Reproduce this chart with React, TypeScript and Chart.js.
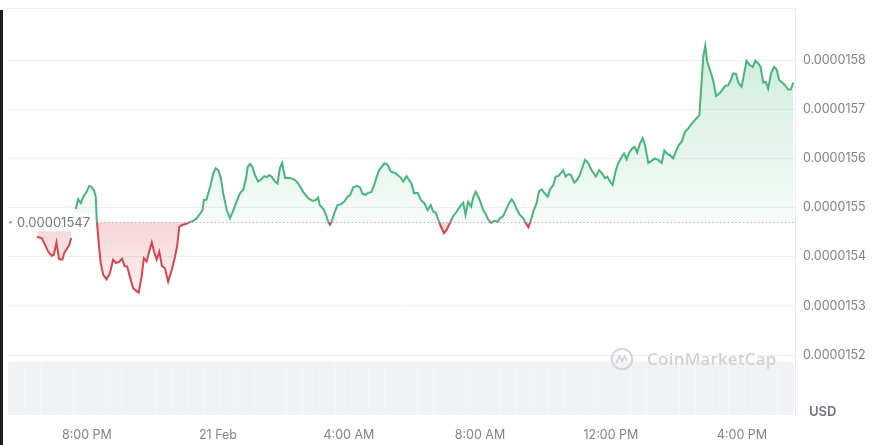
import React, { useEffect, useRef } from "react";
import { Chart, registerables } from "chart.js";

Chart.register(...registerables);

// hours since 20 Feb 00:00
const TIMES: number[] = [
  18.48, 18.62, 18.72, 18.82, 18.92, 18.99, 19.07, 19.15, 19.25, 19.31, 19.38, 19.46, 19.52,
  19.59,
  19.66, 19.73, 19.81, 19.89, 19.99, 20.07, 20.14, 20.22, 20.27, 20.30, 20.37, 20.42, 20.50,
  20.60, 20.70, 20.80, 20.89, 20.99, 21.07, 21.15, 21.23, 21.31, 21.41, 21.50, 21.58, 21.67,
  21.74, 21.82, 21.90, 21.98, 22.05, 22.13, 22.21, 22.29, 22.38, 22.48, 22.59, 22.69, 22.76,
  22.82, 22.92, 23.04, 23.15, 23.25, 23.35, 23.45, 23.53, 23.57, 23.65, 23.76, 23.86, 23.93,
  24.01, 24.09, 24.16, 24.27, 24.37, 24.47, 24.57, 24.67, 24.77, 24.85, 24.91, 24.98, 25.05,
  25.13, 25.23, 25.33, 25.41, 25.49, 25.56, 25.64, 25.74, 25.82, 25.89, 25.96, 26.05, 26.20,
  26.30, 26.40, 26.50, 26.60, 26.76, 26.88, 26.98, 27.06, 27.11, 27.22, 27.30, 27.37, 27.42,
  27.47, 27.55, 27.65, 27.76, 27.86, 27.96, 28.04, 28.13, 28.24, 28.34, 28.41, 28.51, 28.59,
  28.69, 28.77, 28.85, 28.92, 29.00, 29.08, 29.18, 29.28, 29.40, 29.49, 29.59, 29.66, 29.76,
  29.83, 29.91, 29.99, 30.10, 30.20, 30.30, 30.40, 30.50, 30.57, 30.65, 30.73, 30.81, 30.90,
  30.98, 31.08, 31.18, 31.29, 31.39, 31.49, 31.56, 31.64, 31.73, 31.80, 31.87, 31.95, 32.03,
  32.10, 32.17, 32.25, 32.34, 32.44, 32.54, 32.61, 32.71, 32.82, 32.89, 32.97, 33.05, 33.12,
  33.22, 33.32, 33.40, 33.48, 33.55, 33.63, 33.73, 33.80, 33.88, 33.98, 34.07, 34.14, 34.24,
  34.31, 34.39, 34.47, 34.54, 34.62, 34.70, 34.78, 34.88, 34.95, 35.05, 35.12, 35.21, 35.31,
  35.41, 35.54, 35.64, 35.72, 35.82, 35.89, 35.97, 36.05, 36.15, 36.22, 36.33, 36.40, 36.48,
  36.56, 36.66, 36.73, 36.80, 36.89, 36.97, 37.04, 37.14, 37.24, 37.34, 37.44, 37.55, 37.63,
  37.72, 37.80, 37.90, 37.98, 38.07, 38.16, 38.26, 38.36, 38.46, 38.56, 38.70, 38.77, 38.82,
  38.88, 38.94, 39.02, 39.12, 39.21, 39.31, 39.41, 39.48, 39.58, 39.66, 39.73, 39.82, 39.89,
  39.99, 40.06, 40.14, 40.24, 40.33, 40.41, 40.50, 40.57, 40.65, 40.73, 40.80, 40.89, 40.98,
  41.06, 41.14, 41.24, 41.34, 41.41, 41.49, 41.57,
];

// USD prices (null = missing sample)
const PRICES: (number | null)[] = [
  154.40e-7, 154.38e-7, 154.24e-7, 154.10e-7, 154.02e-7, 154.04e-7, 154.29e-7, 153.95e-7, 153.94e-7, 154.08e-7, 154.15e-7, 154.24e-7, 154.38e-7,
  null,
  154.97e-7, 155.17e-7, 155.09e-7, 155.22e-7, 155.32e-7, 155.44e-7, 155.42e-7, 155.34e-7, 155.22e-7, 154.75e-7, 154.21e-7, 153.87e-7, 153.63e-7,
  153.54e-7, 153.66e-7, 153.94e-7, 153.87e-7, 153.90e-7, 153.96e-7, 153.81e-7, 153.80e-7, 153.60e-7, 153.36e-7, 153.31e-7, 153.27e-7, 153.60e-7,
  153.97e-7, 153.90e-7, 154.10e-7, 154.29e-7, 154.10e-7, 153.94e-7, 154.10e-7, 153.81e-7, 153.77e-7, 153.49e-7, 153.73e-7, 154.00e-7, 154.24e-7,
  154.61e-7, 154.65e-7, 154.67e-7, 154.71e-7, 154.73e-7, 154.78e-7, 154.87e-7, 154.95e-7, 155.15e-7, 155.16e-7, 155.42e-7, 155.70e-7, 155.80e-7,
  155.76e-7, 155.60e-7, 155.29e-7, 154.95e-7, 154.78e-7, 154.95e-7, 155.12e-7, 155.29e-7, 155.36e-7, 155.56e-7, 155.83e-7, 155.89e-7, 155.83e-7,
  155.66e-7, 155.53e-7, 155.58e-7, 155.64e-7, 155.62e-7, 155.66e-7, 155.63e-7, 155.53e-7, 155.49e-7, 155.80e-7, 155.91e-7, 155.60e-7, 155.60e-7,
  155.58e-7, 155.53e-7, 155.44e-7, 155.32e-7, 155.19e-7, 155.14e-7, 155.15e-7, 155.20e-7, 155.05e-7, 154.97e-7, 154.85e-7, 154.71e-7, 154.65e-7,
  154.71e-7, 154.88e-7, 155.05e-7, 155.07e-7, 155.12e-7, 155.22e-7, 155.26e-7, 155.41e-7, 155.44e-7, 155.41e-7, 155.28e-7, 155.26e-7, 155.30e-7,
  155.32e-7, 155.46e-7, 155.63e-7, 155.76e-7, 155.83e-7, 155.90e-7, 155.87e-7, 155.73e-7, 155.71e-7, 155.66e-7, 155.60e-7, 155.53e-7, 155.64e-7,
  155.56e-7, 155.49e-7, 155.29e-7, 155.30e-7, 155.15e-7, 155.09e-7, 154.95e-7, 155.05e-7, 154.92e-7, 154.90e-7, 154.75e-7, 154.61e-7, 154.48e-7,
  154.54e-7, 154.68e-7, 154.82e-7, 154.92e-7, 155.02e-7, 155.10e-7, 154.85e-7, 155.12e-7, 155.02e-7, 155.22e-7, 155.32e-7, 155.22e-7, 155.09e-7,
  154.95e-7, 154.88e-7, 154.76e-7, 154.69e-7, 154.73e-7, 154.71e-7, 154.78e-7, 154.83e-7, 154.99e-7, 155.09e-7, 155.17e-7, 155.09e-7, 154.97e-7,
  154.85e-7, 154.78e-7, 154.68e-7, 154.60e-7, 154.73e-7, 154.92e-7, 155.09e-7, 155.32e-7, 155.37e-7, 155.29e-7, 155.22e-7, 155.37e-7, 155.46e-7,
  155.63e-7, 155.64e-7, 155.70e-7, 155.76e-7, 155.63e-7, 155.68e-7, 155.66e-7, 155.51e-7, 155.55e-7, 155.66e-7, 155.80e-7, 155.97e-7, 155.90e-7,
  155.76e-7, 155.63e-7, 155.76e-7, 155.70e-7, 155.60e-7, 155.63e-7, 155.53e-7, 155.46e-7, 155.76e-7, 155.90e-7, 156.03e-7, 156.10e-7, 155.98e-7,
  156.12e-7, 156.21e-7, 156.23e-7, 156.12e-7, 156.31e-7, 156.41e-7, 156.27e-7, 155.91e-7, 155.95e-7, 156.00e-7, 155.97e-7, 155.91e-7, 156.16e-7,
  156.09e-7, 156.07e-7, 156.00e-7, 156.14e-7, 156.27e-7, 156.34e-7, 156.54e-7, 156.61e-7, 156.70e-7, 156.78e-7, 156.88e-7, 157.59e-7, 158.07e-7,
  158.29e-7, 157.97e-7, 157.81e-7, 157.59e-7, 157.27e-7, 157.32e-7, 157.40e-7, 157.47e-7, 157.49e-7, 157.59e-7, 157.73e-7, 157.72e-7, 157.54e-7,
  157.46e-7, 157.70e-7, 157.99e-7, 157.90e-7, 157.86e-7, 157.99e-7, 157.93e-7, 157.86e-7, 157.54e-7, 157.56e-7, 157.42e-7, 157.73e-7, 157.86e-7,
  157.81e-7, 157.59e-7, 157.54e-7, 157.47e-7, 157.40e-7, 157.40e-7, 157.54e-7,
];

const BASELINE = 154.7e-7;
const BASELINE_LABEL = "0.00001547";

const VOLUME_TIMES: number[] = [
  17.84, 18.34, 18.84, 19.34, 19.84, 20.34, 20.84, 21.34, 21.84, 22.34, 22.84, 23.34,
  23.84, 24.34, 24.84, 25.34, 25.84, 26.34, 26.84, 27.34, 27.84, 28.34, 28.84, 29.34,
  29.84, 30.34, 30.84, 31.34, 31.84, 32.34, 32.84, 33.34, 33.84, 34.34, 34.84, 35.34,
  35.84, 36.34, 36.84, 37.34, 37.84, 38.34, 38.84, 39.34, 39.84, 40.34, 40.84, 41.34,
];
const VOLUMES: number[] = [
  100, 100, 100, 100, 100, 100, 100, 100, 100, 100, 100, 100,
  100, 100, 100, 100, 100, 100, 100, 100, 100, 100, 100, 100,
  100, 100, 100, 100, 100, 100, 100, 100, 100, 100, 100, 100,
  100, 100, 100, 100, 100, 100, 100, 100, 100, 100, 100, 100,
];

const X_TICKS = [20, 24, 28, 32, 36, 40];
const X_TICK_LABELS = ["8:00 PM", "21 Feb", "4:00 AM", "8:00 AM", "12:00 PM", "4:00 PM"];
const Y_TICKS = [152e-7, 153e-7, 154e-7, 155e-7, 156e-7, 157e-7, 158e-7];

const X_MIN = 17.59;
const X_MAX = 41.62;
const Y_MIN = 150.78e-7;
const Y_MAX = 159.06e-7;
const VOL_MAX = 768;

const GREEN = "#47b57c";
const RED = "#d8444b";
const GRID = "#eef0f3";
const LABEL = "#7d8390";

const chartPlugin = {
  id: "cmcDecor",
  beforeDatasetsDraw(chart: any) {
    const { ctx, chartArea } = chart;
    const yb = chart.scales.y.getPixelForValue(BASELINE);
    ctx.save();
    ctx.strokeStyle = GRID;
    ctx.lineWidth = 1;
    ctx.beginPath();
    ctx.moveTo(chartArea.left, chartArea.top + 0.5);
    ctx.lineTo(chartArea.right, chartArea.top + 0.5);
    ctx.stroke();
    ctx.strokeStyle = "#a9aeb6";
    ctx.lineWidth = 1.2;
    ctx.setLineDash([1.2, 2.6]);
    ctx.beginPath();
    ctx.moveTo(chartArea.left + 89, Math.round(yb) + 0.5);
    ctx.lineTo(chartArea.right, Math.round(yb) + 0.5);
    ctx.stroke();
    ctx.restore();
  },
  beforeDatasetDraw(chart: any, args: any) {
    const ds = chart.data.datasets[args.index];
    if (ds.label !== "up" && ds.label !== "down") return;
    const { ctx, chartArea } = chart;
    const yb = chart.scales.y.getPixelForValue(BASELINE);
    ctx.save();
    ctx.beginPath();
    if (ds.label === "up") {
      ctx.rect(chartArea.left - 5, chartArea.top - 10, chartArea.width + 10, yb - chartArea.top + 10);
    } else {
      ctx.rect(chartArea.left - 5, yb, chartArea.width + 10, chartArea.bottom - yb + 10);
    }
    ctx.clip();
  },
  afterDatasetDraw(chart: any, args: any) {
    const ds = chart.data.datasets[args.index];
    if (ds.label !== "up" && ds.label !== "down") return;
    chart.ctx.restore();
  },
  afterDatasetsDraw(chart: any) {
    const { ctx, chartArea } = chart;
    const yb = chart.scales.y.getPixelForValue(BASELINE);
    ctx.save();
    ctx.fillStyle = "#ffffff";
    ctx.fillRect(chartArea.left, yb - 9, 86, 18);
    ctx.fillStyle = "#8a909b";
    ctx.beginPath();
    ctx.arc(chartArea.left + 2.5, yb, 1.2, 0, Math.PI * 2);
    ctx.fill();
    ctx.fillStyle = "#6f7684";
    ctx.font = "13px Inter";
    ctx.textBaseline = "middle";
    ctx.textAlign = "left";
    ctx.fillText(BASELINE_LABEL, chartArea.left + 9, yb + 1);
    ctx.restore();
  },
};

function makeGradient(chart: any, up: boolean) {
  const { ctx, chartArea, scales } = chart;
  if (!chartArea || !scales.y) return up ? "rgba(71,181,124,0.12)" : "rgba(216,68,75,0.12)";
  const yb = scales.y.getPixelForValue(BASELINE);
  if (up) {
    const g = ctx.createLinearGradient(0, scales.y.getPixelForValue(158.3e-7), 0, yb);
    g.addColorStop(0, "rgba(71,181,124,0.26)");
    g.addColorStop(1, "rgba(71,181,124,0.05)");
    return g;
  }
  const g = ctx.createLinearGradient(0, yb, 0, scales.y.getPixelForValue(153.2e-7));
  g.addColorStop(0, "rgba(216,68,75,0.22)");
  g.addColorStop(1, "rgba(216,68,75,0.07)");
  return g;
}

export default function App() {
  const canvasRef = useRef<HTMLCanvasElement | null>(null);

  useEffect(() => {
    if (!canvasRef.current) return;
    const points = TIMES.map((t, i) => ({ x: t, y: PRICES[i] }));
    const volPoints = VOLUME_TIMES.map((t, i) => ({ x: t, y: VOLUMES[i] }));
    const chart = new Chart(canvasRef.current, {
      type: "line",
      data: {
        datasets: [
          {
            label: "up",
            data: points as any,
            borderColor: GREEN,
            borderWidth: 2,
            pointRadius: 0,
            tension: 0,
            spanGaps: false,
            fill: ((c: any) => ({
              value: BASELINE,
              above: makeGradient(c.chart, true),
              below: makeGradient(c.chart, false),
            })) as any,
            backgroundColor: "rgba(0,0,0,0)",
            yAxisID: "y",
          },
          {
            label: "down",
            data: points as any,
            borderColor: RED,
            borderWidth: 2,
            pointRadius: 0,
            tension: 0,
            spanGaps: false,
            fill: false,
            yAxisID: "y",
          },
          {
            type: "bar" as any,
            label: "volume",
            data: volPoints as any,
            backgroundColor: "#f0f2f5",
            borderWidth: 0,
            barPercentage: 0.985,
            categoryPercentage: 1,
            yAxisID: "yv",
          } as any,
        ],
      },
      options: {
        animation: false,
        responsive: false,
        maintainAspectRatio: false,
        layout: { padding: { left: 8, top: 8, right: 0, bottom: 0 } },
        plugins: { legend: { display: false }, tooltip: { enabled: false } },
        scales: {
          x: {
            type: "linear",
            offset: false,
            min: X_MIN,
            max: X_MAX,
            grid: { display: false, drawTicks: false, offset: false },
            border: { display: false },
            afterBuildTicks: (axis: any) => {
              axis.ticks = X_TICKS.map((v) => ({ value: v }));
            },
            afterFit: (axis: any) => {
              axis.height = 30;
              axis.paddingLeft = 0;
              axis.paddingRight = 0;
            },
            ticks: {
              autoSkip: false,
              maxRotation: 0,
              padding: 13,
              color: LABEL,
              font: { family: "Inter", size: 12.5 },
              callback: (v: any) => {
                const i = X_TICKS.indexOf(Number(v));
                return i >= 0 ? X_TICK_LABELS[i] : "";
              },
            },
          },
          y: {
            position: "right",
            min: Y_MIN,
            max: Y_MAX,
            grid: { color: GRID, drawTicks: false },
            border: { display: true, color: "#e8ebef" },
            afterBuildTicks: (axis: any) => {
              axis.ticks = Y_TICKS.map((v) => ({ value: v }));
            },
            afterFit: (axis: any) => {
              axis.width = 80;
              axis.paddingTop = 0;
              axis.paddingBottom = 0;
            },
            ticks: {
              padding: 8,
              color: LABEL,
              font: { family: "Inter", size: 12.5 },
              callback: (v: any) => Number(v).toFixed(7),
            },
          },
          yv: {
            display: false,
            min: 0,
            max: VOL_MAX,
          },
        },
      } as any,
      plugins: [chartPlugin],
    });
    return () => chart.destroy();
  }, []);

  return (
    <div style={{ position: "fixed", left: 0, top: 0, width: 875, height: 445, background: "#fff", overflow: "hidden" }}>
      <canvas ref={canvasRef} width={875} height={445} style={{ display: "block", width: 875, height: 445 }} />
      <div style={{ position: "absolute", left: 0, top: 10, width: 3, height: 435, background: "#1e1e1e" }} />
      <div
        style={{
          position: "absolute",
          left: 809,
          top: 403,
          font: "600 13px Inter",
          lineHeight: "16px",
          color: "#6c7382",
        }}
      >
        USD
      </div>
      <div
        style={{
          position: "absolute",
          left: 610,
          top: 347,
          height: 24,
          display: "flex",
          alignItems: "center",
          gap: 13,
          pointerEvents: "none",
        }}
      >
        <svg width="24" height="24" viewBox="0 0 24 24">
          <circle cx="12" cy="12" r="10.2" fill="none" stroke="#d3d6db" strokeWidth="2" />
          <path d="M6.5 15.5 L9.2 8.8 L12 14.2 L14.8 8.8 L16.6 13.2" fill="none" stroke="#d3d6db" strokeWidth="2" strokeLinejoin="round" strokeLinecap="round" />
        </svg>
        <span style={{ font: "500 17px 'Noto Sans'", color: "#cdd1d6", lineHeight: "24px", letterSpacing: 0.3 }}>
          CoinMarketCap
        </span>
      </div>
    </div>
  );
}
